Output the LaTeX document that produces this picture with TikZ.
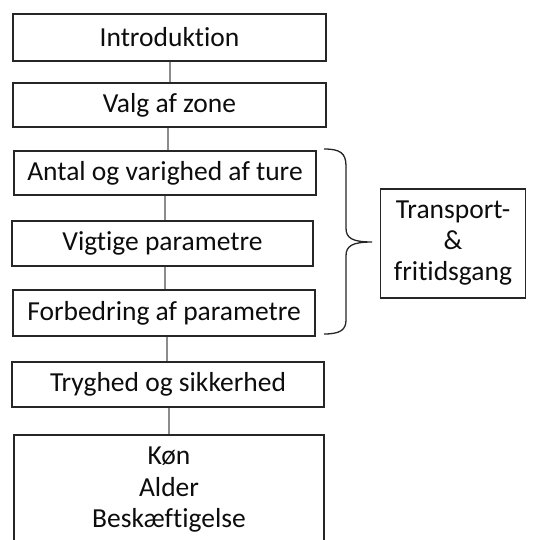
\documentclass[tikz,border=0pt]{standalone}
\usepackage{fontspec}
\setmainfont[Ligatures={NoCommon}]{Carlito}
\begin{document}
\begin{tikzpicture}[x=1pt,y=-1pt,
  box/.style={draw=black!85, line width=1.3pt, rectangle, inner sep=0pt, align=center,
    font=\fontsize{27.5}{31.5}\selectfont, text=black!95},
  conn/.style={draw=black!45, line width=1.3pt},
  brace/.style={draw=black!85, line width=1.3pt}]
\useasboundingbox (0,0) rectangle (538,540);
\clip (0,0) rectangle (538,540);
\fill[white] (0,0) rectangle (538,540);
\node[box, minimum width=313pt, minimum height=47pt] (intro) at (169.5,37.5) {Introduktion};
\node[box, minimum width=313pt, minimum height=44pt] (valg) at (169.5,105) {Valg af zone};
\node[box, minimum width=302pt, minimum height=44pt] (antal) at (165,173) {Antal og varighed af ture};
\node[box, minimum width=301pt, minimum height=45pt] (vigt) at (162.5,243.5) {Vigtige parametre};
\node[box, minimum width=302pt, minimum height=46pt] (forb) at (164,313) {Forbedring af parametre};
\node[box, minimum width=312pt, minimum height=45pt] (tryg) at (168,384.5) {Tryghed og sikkerhed};
\node[box, minimum width=310pt, minimum height=110pt] (bund) at (169,490) {Køn\\Alder\\Beskæftigelse};
\node[box, minimum width=145pt, minimum height=109pt, font=\fontsize{27.5}{31}\selectfont] (trans) at (453,243.5) {Transport-\\\&\\fritidsgang};
\draw[conn] (intro.south -| 170,0) -- (valg.north -| 170,0);
\draw[conn] (valg.south -| 168,0) -- (antal.north -| 168,0);
\draw[conn] (antal.south -| 165,0) -- (vigt.north -| 165,0);
\draw[conn] (vigt.south -| 165,0) -- (forb.north -| 165,0);
\draw[conn] (forb.south -| 167,0) -- (tryg.north -| 167,0);
\draw[conn] (tryg.south -| 169,0) -- (bund.north -| 169,0);
\coordinate (btop) at (324,149);
\coordinate (btip) at (372,242);
\coordinate (bbot) at (324,334);
\draw[brace] (btop) .. controls (340,149) and (346,153) .. (346,166) -- (346,228)
  .. controls (346,238) and (352,242) .. (btip)
  .. controls (352,242) and (346,246) .. (346,256) -- (346,320)
  .. controls (346,330) and (340,334) .. (bbot);
\end{tikzpicture}
\end{document}
